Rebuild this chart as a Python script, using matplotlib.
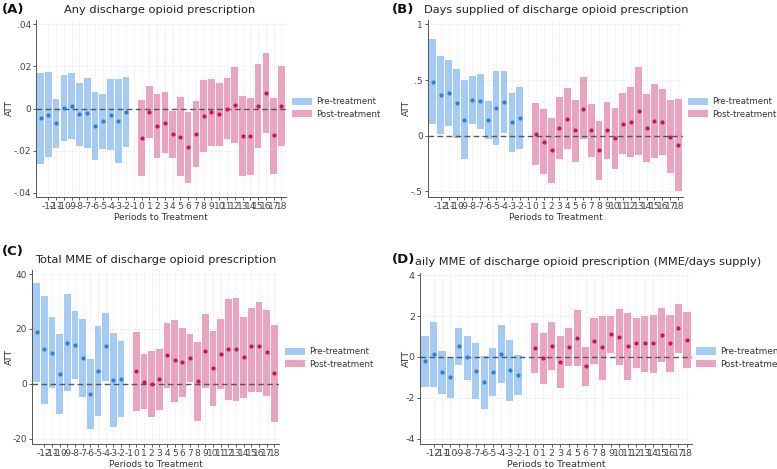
import matplotlib
matplotlib.use("Agg")
import matplotlib.pyplot as plt
from matplotlib.patches import Patch

plt.rcParams['axes.unicode_minus'] = False
plt.rcParams['font.family'] = ['DejaVu Sans']

periods_pre = list(range(-13, -1))
periods_post = list(range(0, 19))
xtick_vals = list(range(-12, 19))

# Panel A
a_pre_est = [-0.0047, -0.0030, -0.0071, 0.0002, 0.0014, -0.0027, -0.0020, -0.0083, -0.0061, -0.0030, -0.0057, -0.0016]
a_pre_hi = [0.0170, 0.0172, 0.0047, 0.0160, 0.0168, 0.0121, 0.0144, 0.0076, 0.0068, 0.0140, 0.0140, 0.0150]
a_pre_lo = [-0.0265, -0.0231, -0.0189, -0.0154, -0.0143, -0.0176, -0.0186, -0.0244, -0.0191, -0.0199, -0.0257, -0.0181]
a_post_est = [-0.0139, -0.0017, -0.0082, -0.0068, -0.0122, -0.0133, -0.0183, -0.0120, -0.0037, -0.0018, -0.0028, 0.0000, 0.0017, -0.0131, -0.0131, 0.0014, 0.0072, -0.0128, 0.0014]
a_post_hi = [0.0041, 0.0108, 0.0069, 0.0076, -0.0011, 0.0053, -0.0015, 0.0037, 0.0133, 0.0138, 0.0120, 0.0144, 0.0198, 0.0057, 0.0052, 0.0213, 0.0262, 0.0052, 0.0203]
a_post_lo = [-0.0318, -0.0142, -0.0236, -0.0212, -0.0233, -0.0318, -0.0352, -0.0278, -0.0208, -0.0177, -0.0178, -0.0145, -0.0163, -0.0322, -0.0314, -0.0189, -0.0117, -0.0309, -0.0180]

# Panel B
b_pre_est = [0.485, 0.369, 0.385, 0.295, 0.146, 0.321, 0.310, 0.146, 0.250, 0.302, 0.124, 0.158]
b_pre_hi = [0.869, 0.717, 0.685, 0.603, 0.498, 0.533, 0.551, 0.313, 0.586, 0.580, 0.381, 0.436]
b_pre_lo = [0.104, 0.012, 0.089, -0.018, -0.211, 0.107, 0.063, -0.028, -0.086, 0.024, -0.143, -0.122]
b_post_est = [0.015, -0.054, -0.128, 0.071, 0.152, 0.054, 0.244, 0.054, -0.128, 0.048, -0.018, 0.107, 0.128, 0.223, 0.071, 0.131, 0.128, -0.009, -0.086]
b_post_hi = [0.298, 0.238, 0.161, 0.345, 0.426, 0.324, 0.524, 0.289, 0.137, 0.301, 0.250, 0.381, 0.440, 0.616, 0.375, 0.461, 0.423, 0.324, 0.327]
b_post_lo = [-0.265, -0.342, -0.420, -0.205, -0.122, -0.232, -0.033, -0.188, -0.396, -0.211, -0.295, -0.161, -0.190, -0.173, -0.232, -0.199, -0.176, -0.336, -0.500]

# Panel C
c_pre_est = [18.7, 12.5, 11.3, 3.6, 14.9, 14.3, 9.3, -3.9, 4.7, 13.7, 1.5, 1.8]
c_pre_hi = [36.8, 32.1, 24.2, 18.2, 32.7, 26.7, 23.6, 9.1, 21.1, 25.9, 18.5, 15.6]
c_pre_lo = [0.5, -7.3, -1.7, -11.2, -2.8, 1.7, -4.7, -16.7, -11.8, 1.1, -15.8, -12.2]
c_post_est = [4.6, 0.7, 0.0, 1.7, 10.3, 8.5, 7.8, 9.5, 1.0, 11.9, 5.7, 11.0, 12.6, 12.6, 9.6, 13.8, 13.6, 11.4, 3.9]
c_post_hi = [19.0, 10.9, 12.1, 12.7, 22.1, 23.4, 20.2, 18.3, 15.4, 25.3, 19.3, 23.6, 30.8, 31.4, 24.4, 27.8, 29.9, 27.0, 21.6]
c_post_lo = [-10.1, -9.3, -12.2, -9.5, -1.6, -6.5, -4.8, 0.6, -13.7, -1.6, -8.1, -1.9, -5.8, -6.2, -5.3, -2.9, -3.0, -4.4, -14.1]

# Panel D
d_pre_est = [-0.22, 0.13, -0.74, -0.98, 0.53, -0.02, -0.67, -1.22, -0.72, 0.16, -0.66, -0.87]
d_pre_hi = [1.01, 1.73, 0.31, -0.02, 1.43, 1.04, 0.66, 0.06, 0.45, 1.57, 0.85, 0.08]
d_pre_lo = [-1.45, -1.48, -1.82, -1.99, -0.37, -1.12, -2.04, -2.52, -1.90, -1.27, -2.15, -1.85]
d_post_est = [0.43, -0.05, 0.53, -0.26, 0.50, 0.93, -0.45, 0.80, 0.47, 1.11, 0.98, 0.53, 0.66, 0.66, 0.66, 1.09, 0.66, 1.40, 0.85]
d_post_hi = [1.64, 1.19, 1.69, 1.00, 1.41, 2.28, 0.50, 1.90, 1.99, 2.02, 2.33, 2.15, 1.90, 2.02, 2.06, 2.38, 2.06, 2.60, 2.18]
d_post_lo = [-0.80, -1.33, -0.64, -1.53, -0.43, -0.43, -1.43, -0.32, -1.11, 0.19, -0.39, -1.11, -0.56, -0.72, -0.77, -0.24, -0.75, 0.21, -0.53]

titles = ["Any discharge opioid prescription",
          "Days supplied of discharge opioid prescription",
          "Total MME of discharge opioid prescription",
          "aily MME of discharge opioid prescription (MME/days supply)"]
panel_labels = ["(A)", "(B)", "(C)", "(D)"]
legend_labels = ["Pre-treatment", "Post-treatment"]

ytick_vals = [[-0.04, -0.02, 0, 0.02, 0.04], [-0.5, 0, 0.5, 1], [-20, 0, 20, 40], [-4, -2, 0, 2, 4]]
ytick_labels = [["-.04", "-.02", "0", ".02", ".04"], ["-.5", "0", ".5", "1"], ["-20", "0", "20", "40"], ["-4", "-2", "0", "2", "4"]]
ylims = [(-0.042, 0.042), (-0.55, 1.04), (-22, 41.5), (-4.25, 4.1)]

pre_bar = "#a3cbf5"
post_bar = "#eca3bf"
pre_pt = "#2b7fe0"
post_pt = "#c8174f"

W, H = 777, 469
fig = plt.figure(figsize=(W / 100, H / 100), dpi=100)

# axes rectangles in pixel coords (left, top, right, bottom)
rects = [(36, 20, 286, 197), (428, 20, 683, 197), (32, 270, 279, 444), (420, 273, 692, 444)]
data = [
    (a_pre_est, a_pre_lo, a_pre_hi, a_post_est, a_post_lo, a_post_hi),
    (b_pre_est, b_pre_lo, b_pre_hi, b_post_est, b_post_lo, b_post_hi),
    (c_pre_est, c_pre_lo, c_pre_hi, c_post_est, c_post_lo, c_post_hi),
    (d_pre_est, d_pre_lo, d_pre_hi, d_post_est, d_post_lo, d_post_hi),
]
title_pos = [(160, 10, 'center', 8.2), (556, 10, 'center', 8.2), (156, 260, 'center', 8.2), (415, 262, 'left', 8.2)]
label_pos = [(2, 10), (392, 10), (2, 252), (392, 259)]
ylabel_x = [5, 402, 5, 402]
legend_pos = [(292, 108), (688, 108), (285, 358), (696, 358)]
legend_fs = [6.2, 6.2, 6.2, 6.4]
tick_fs = [6.5, 6.5, 6.5, 6.8]

for i in range(4):
    l, t, r, b = rects[i]
    ax = fig.add_axes([l / W, 1 - b / H, (r - l) / W, (b - t) / H])
    pe, plo, phi, qe, qlo, qhi = data[i]
    ax.bar(periods_pre, [h - lo for h, lo in zip(phi, plo)], bottom=plo, width=0.85,
           color=pre_bar, edgecolor='none', zorder=2)
    ax.bar(periods_post, [h - lo for h, lo in zip(qhi, qlo)], bottom=qlo, width=0.85,
           color=post_bar, edgecolor='none', zorder=2)
    ax.axhline(0, color='#555555', ls='--', lw=1.0, dashes=(4, 2.5), zorder=3)
    ax.plot(periods_pre, pe, 'o', ms=3.0, color=pre_pt, mec='none', zorder=4)
    ax.plot(periods_post, qe, 'o', ms=3.0, color=post_pt, mec='none', zorder=4)
    ax.set_xlim(-13.6, 18.6)
    ax.set_ylim(*ylims[i])
    fs = tick_fs[i]
    ax.set_xticks(xtick_vals)
    ax.set_xticklabels([str(v) for v in xtick_vals], fontsize=fs, color='#333333')
    ax.set_yticks(ytick_vals[i])
    ax.set_yticklabels(ytick_labels[i], fontsize=fs, color='#333333')
    ax.tick_params(axis='both', length=2.5, width=0.6, colors='#444444', pad=1.2)
    ax.grid(True, color='#e2e2e2', lw=0.5, ls=(0, (1.5, 1.5)), zorder=0)
    ax.set_axisbelow(True)
    for s in ['top', 'right']:
        ax.spines[s].set_visible(False)
    for s in ['left', 'bottom']:
        ax.spines[s].set_color('#555555')
        ax.spines[s].set_linewidth(0.7)
    ax.set_xlabel("Periods to Treatment", fontsize=fs, color='#333333', labelpad=1.5)
    fig.text(ylabel_x[i] / W, 1 - ((t + b) / 2) / H, "ATT", rotation=90, fontsize=fs,
             color='#333333', ha='left', va='center')
    tx, ty, tha, tfs = title_pos[i]
    fig.text(tx / W, 1 - ty / H, titles[i], fontsize=tfs, ha=tha, va='center', color='#222222')
    px, py = label_pos[i]
    fig.text(px / W, 1 - py / H, panel_labels[i], fontsize=9.5, fontweight='bold',
             ha='left', va='center', color='#111111')
    handles = [Patch(facecolor=pre_bar, edgecolor='none'), Patch(facecolor=post_bar, edgecolor='none')]
    lx, ly = legend_pos[i]
    fig.legend(handles, legend_labels, loc='center left', bbox_to_anchor=(lx / W, 1 - ly / H),
               frameon=False, fontsize=legend_fs[i], handlelength=2.3, handleheight=0.9,
               handletextpad=0.45, labelspacing=0.4, borderpad=0, borderaxespad=0,
               labelcolor='#333333')

fig.savefig("out.png", dpi=100)
